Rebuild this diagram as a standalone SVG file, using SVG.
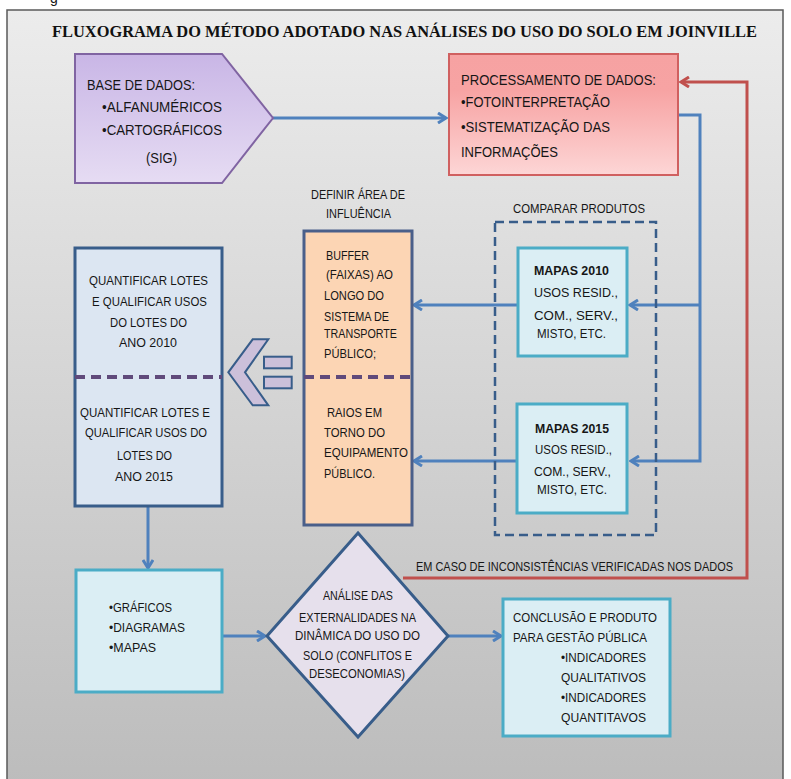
<svg xmlns="http://www.w3.org/2000/svg" width="791" height="779" viewBox="0 0 791 779">
<defs>
<linearGradient id="bg" x1="0" y1="0" x2="0" y2="1"><stop offset="0" stop-color="#ececec"/><stop offset="1" stop-color="#bcbcbc"/></linearGradient>
<linearGradient id="lav" x1="0" y1="0" x2="0" y2="1"><stop offset="0" stop-color="#c9b6e6"/><stop offset="1" stop-color="#e6dcf3"/></linearGradient>
<linearGradient id="red" x1="0" y1="0" x2="0" y2="1"><stop offset="0" stop-color="#f6a2a2"/><stop offset="0.3" stop-color="#f7a3a3"/><stop offset="1" stop-color="#fdd6d6"/></linearGradient>
<marker id="ab" viewBox="0 0 12 12" refX="10" refY="6" markerWidth="12" markerHeight="12" markerUnits="userSpaceOnUse" orient="auto"><path d="M2,1 L10,6 L2,11" fill="none" stroke="#4f81bd" stroke-width="3"/></marker>
<marker id="ar" viewBox="0 0 12 12" refX="10" refY="6" markerWidth="12" markerHeight="12" markerUnits="userSpaceOnUse" orient="auto"><path d="M2,1 L10,6 L2,11" fill="none" stroke="#c0504d" stroke-width="3"/></marker>
</defs>
<style>
text{font-family:"Liberation Sans Narrow","Liberation Sans",Arial,sans-serif;font-size:13.5px;fill:#161616}
.t14{font-size:14.5px}
.b{font-weight:bold}
.title{font-family:"Liberation Serif","Times New Roman",serif;font-weight:bold;font-size:17px;fill:#111}
.cyan{fill:#dbeef4;stroke:#4bacc6;stroke-width:3}
.blu{stroke:#4f81bd;stroke-width:3;fill:none}
.pdash{stroke:#604a7b;stroke-width:4;stroke-dasharray:10,6}
</style>
<rect x="0" y="0" width="791" height="779" fill="#ffffff"/>
<text x="50" y="3" style="font-family:'Liberation Sans',sans-serif;font-size:14px">g</text>
<rect x="7" y="10" width="776" height="775" fill="url(#bg)" stroke="#5a5a5a" stroke-width="1.5"/>
<text class="title" x="52" y="37" textLength="705" lengthAdjust="spacingAndGlyphs">FLUXOGRAMA DO MÉTODO ADOTADO  NAS ANÁLISES DO USO DO SOLO EM JOINVILLE</text>

<g id="connectors">
<path class="blu" d="M273,118 H446" marker-end="url(#ab)"/>
<path class="blu" d="M678,115 H700 V461 H631" marker-end="url(#ab)"/>
<path class="blu" d="M700,305 H630" marker-end="url(#ab)"/>
<path class="blu" d="M518,305 H414" marker-end="url(#ab)"/>
<path class="blu" d="M517,461 H414" marker-end="url(#ab)"/>
<path class="blu" d="M148,506 V568" marker-end="url(#ab)"/>
<path class="blu" d="M222,636 H265" marker-end="url(#ab)"/>
<path class="blu" d="M448,636 H501" marker-end="url(#ab)"/>
<path d="M403,578 H747 V82 H681" fill="none" stroke="#c0504d" stroke-width="3" marker-end="url(#ar)"/>
<text x="416" y="571" textLength="317" lengthAdjust="spacingAndGlyphs">EM CASO DE INCONSISTÊNCIAS VERIFICADAS NOS DADOS</text>
</g>

<g id="base">
<polygon points="75,54 222,54 273,118 222,183 75,183" fill="url(#lav)" stroke="#8064a2" stroke-width="2"/>
<text class="t14" x="87" y="90" textLength="108" lengthAdjust="spacingAndGlyphs">BASE DE DADOS:</text>
<text class="t14" x="102" y="112" textLength="120" lengthAdjust="spacingAndGlyphs">•ALFANUMÉRICOS</text>
<text class="t14" x="102" y="135" textLength="120" lengthAdjust="spacingAndGlyphs">•CARTOGRÁFICOS</text>
<text class="t14" x="146" y="163" textLength="31" lengthAdjust="spacingAndGlyphs">(SIG)</text>
</g>

<g id="processamento">
<rect x="449" y="54" width="229" height="121" fill="url(#red)" stroke="#d06060" stroke-width="2"/>
<text class="t14" x="461" y="85" textLength="195" lengthAdjust="spacingAndGlyphs">PROCESSAMENTO DE DADOS:</text>
<text class="t14" x="461" y="107" textLength="149" lengthAdjust="spacingAndGlyphs">•FOTOINTERPRETAÇÃO</text>
<text class="t14" x="461" y="132" textLength="149" lengthAdjust="spacingAndGlyphs">•SISTEMATIZAÇÃO DAS</text>
<text class="t14" x="461" y="157" textLength="97" lengthAdjust="spacingAndGlyphs">INFORMAÇÕES</text>
</g>

<g id="comparar">
<rect x="495" y="222" width="161" height="313" fill="none" stroke="#385d8a" stroke-width="2.5" stroke-dasharray="9,5"/>
<text x="513" y="213" textLength="132" lengthAdjust="spacingAndGlyphs">COMPARAR PRODUTOS</text>
</g>

<g id="mapas2010">
<rect class="cyan" x="518" y="248" width="109" height="108"/>
<text class="b" x="534" y="275" textLength="75" lengthAdjust="spacingAndGlyphs">MAPAS 2010</text>
<text x="534" y="297" textLength="84" lengthAdjust="spacingAndGlyphs">USOS RESID.,</text>
<text x="534" y="320" textLength="84" lengthAdjust="spacingAndGlyphs">COM., SERV.,</text>
<text x="537" y="338" textLength="69" lengthAdjust="spacingAndGlyphs">MISTO, ETC.</text>
</g>

<g id="mapas2015">
<rect class="cyan" x="517" y="404" width="110" height="109"/>
<text class="b" x="535" y="433" textLength="74" lengthAdjust="spacingAndGlyphs">MAPAS 2015</text>
<text x="535" y="454" textLength="77" lengthAdjust="spacingAndGlyphs">USOS RESID.,</text>
<text x="534" y="476" textLength="77" lengthAdjust="spacingAndGlyphs">COM., SERV.,</text>
<text x="537" y="494" textLength="70" lengthAdjust="spacingAndGlyphs">MISTO, ETC.</text>
</g>

<g id="area">
<text x="311" y="199" textLength="94" lengthAdjust="spacingAndGlyphs">DEFINIR ÁREA DE</text>
<text x="326" y="218" textLength="65" lengthAdjust="spacingAndGlyphs">INFLUÊNCIA</text>
<rect x="304" y="231" width="108" height="294" fill="#fcd5b4" stroke="#4a5f8a" stroke-width="3"/>
<line class="pdash" x1="304" y1="377" x2="412" y2="377"/>
<text x="326" y="260" textLength="43" lengthAdjust="spacingAndGlyphs">BUFFER</text>
<text x="326" y="279" textLength="67" lengthAdjust="spacingAndGlyphs">(FAIXAS) AO</text>
<text x="324" y="300" textLength="60" lengthAdjust="spacingAndGlyphs">LONGO DO</text>
<text x="324" y="321" textLength="65" lengthAdjust="spacingAndGlyphs">SISTEMA DE</text>
<text x="324" y="338" textLength="73" lengthAdjust="spacingAndGlyphs">TRANSPORTE</text>
<text x="324" y="358" textLength="52" lengthAdjust="spacingAndGlyphs">PÚBLICO;</text>
<text x="327" y="417" textLength="55" lengthAdjust="spacingAndGlyphs">RAIOS EM</text>
<text x="324" y="437" textLength="61" lengthAdjust="spacingAndGlyphs">TORNO DO</text>
<text x="324" y="457" textLength="84" lengthAdjust="spacingAndGlyphs">EQUIPAMENTO</text>
<text x="324" y="478" textLength="51" lengthAdjust="spacingAndGlyphs">PÚBLICO.</text>
</g>

<g id="quantificar">
<rect x="75" y="248" width="147" height="258" fill="#dce6f2" stroke="#385d8a" stroke-width="3"/>
<line class="pdash" x1="75" y1="377" x2="222" y2="377"/>
<text x="89" y="285" textLength="119" lengthAdjust="spacingAndGlyphs">QUANTIFICAR LOTES</text>
<text x="92" y="306" textLength="115" lengthAdjust="spacingAndGlyphs">E QUALIFICAR USOS</text>
<text x="110" y="327" textLength="77" lengthAdjust="spacingAndGlyphs">DO LOTES DO</text>
<text x="119" y="347" textLength="58" lengthAdjust="spacingAndGlyphs">ANO 2010</text>
<text x="80" y="417" textLength="130" lengthAdjust="spacingAndGlyphs">QUANTIFICAR LOTES E</text>
<text x="85" y="437" textLength="122" lengthAdjust="spacingAndGlyphs">QUALIFICAR USOS DO</text>
<text x="117" y="460" textLength="55" lengthAdjust="spacingAndGlyphs">LOTES DO</text>
<text x="115" y="481" textLength="58" lengthAdjust="spacingAndGlyphs">ANO 2015</text>
</g>

<g id="seta-esquerda">
<polygon points="252.7,339.3 268.3,339.3 245,372.3 268.3,405.3 252.7,405.3 228.3,372.3" fill="#ccc0da" stroke="#385d8a" stroke-width="2"/>
<rect x="264" y="356.7" width="27.7" height="11.6" fill="#ccc0da" stroke="#385d8a" stroke-width="2"/>
<rect x="264" y="376.7" width="27.7" height="11.6" fill="#ccc0da" stroke="#385d8a" stroke-width="2"/>
</g>

<g id="graficos">
<rect class="cyan" x="76" y="570" width="146" height="122"/>
<text x="109" y="612" textLength="63" lengthAdjust="spacingAndGlyphs">•GRÁFICOS</text>
<text x="109" y="632" textLength="76" lengthAdjust="spacingAndGlyphs">•DIAGRAMAS</text>
<text x="109" y="652" textLength="47" lengthAdjust="spacingAndGlyphs">•MAPAS</text>
</g>

<g id="analise">
<polygon points="358,533 448,636 358,737 267,636" fill="#e6e0ec" stroke="#385d8a" stroke-width="3"/>
<text x="323" y="600" textLength="70" lengthAdjust="spacingAndGlyphs">ANÁLISE DAS</text>
<text x="299" y="622" textLength="117" lengthAdjust="spacingAndGlyphs">EXTERNALIDADES NA</text>
<text x="295" y="640" textLength="125" lengthAdjust="spacingAndGlyphs">DINÂMICA DO USO DO</text>
<text x="303" y="660" textLength="109" lengthAdjust="spacingAndGlyphs">SOLO (CONFLITOS E</text>
<text x="309" y="678" textLength="96" lengthAdjust="spacingAndGlyphs">DESECONOMIAS)</text>
</g>

<g id="conclusao">
<rect class="cyan" x="503" y="599" width="167" height="137"/>
<text x="513" y="622" textLength="144" lengthAdjust="spacingAndGlyphs">CONCLUSÃO E PRODUTO</text>
<text x="513" y="642" textLength="134" lengthAdjust="spacingAndGlyphs">PARA GESTÃO PÚBLICA</text>
<text x="561" y="662" textLength="85" lengthAdjust="spacingAndGlyphs">•INDICADORES</text>
<text x="561" y="682" textLength="85" lengthAdjust="spacingAndGlyphs">QUALITATIVOS</text>
<text x="561" y="702" textLength="85" lengthAdjust="spacingAndGlyphs">•INDICADORES</text>
<text x="561" y="722" textLength="85" lengthAdjust="spacingAndGlyphs">QUANTITAVOS</text>
</g>
</svg>
